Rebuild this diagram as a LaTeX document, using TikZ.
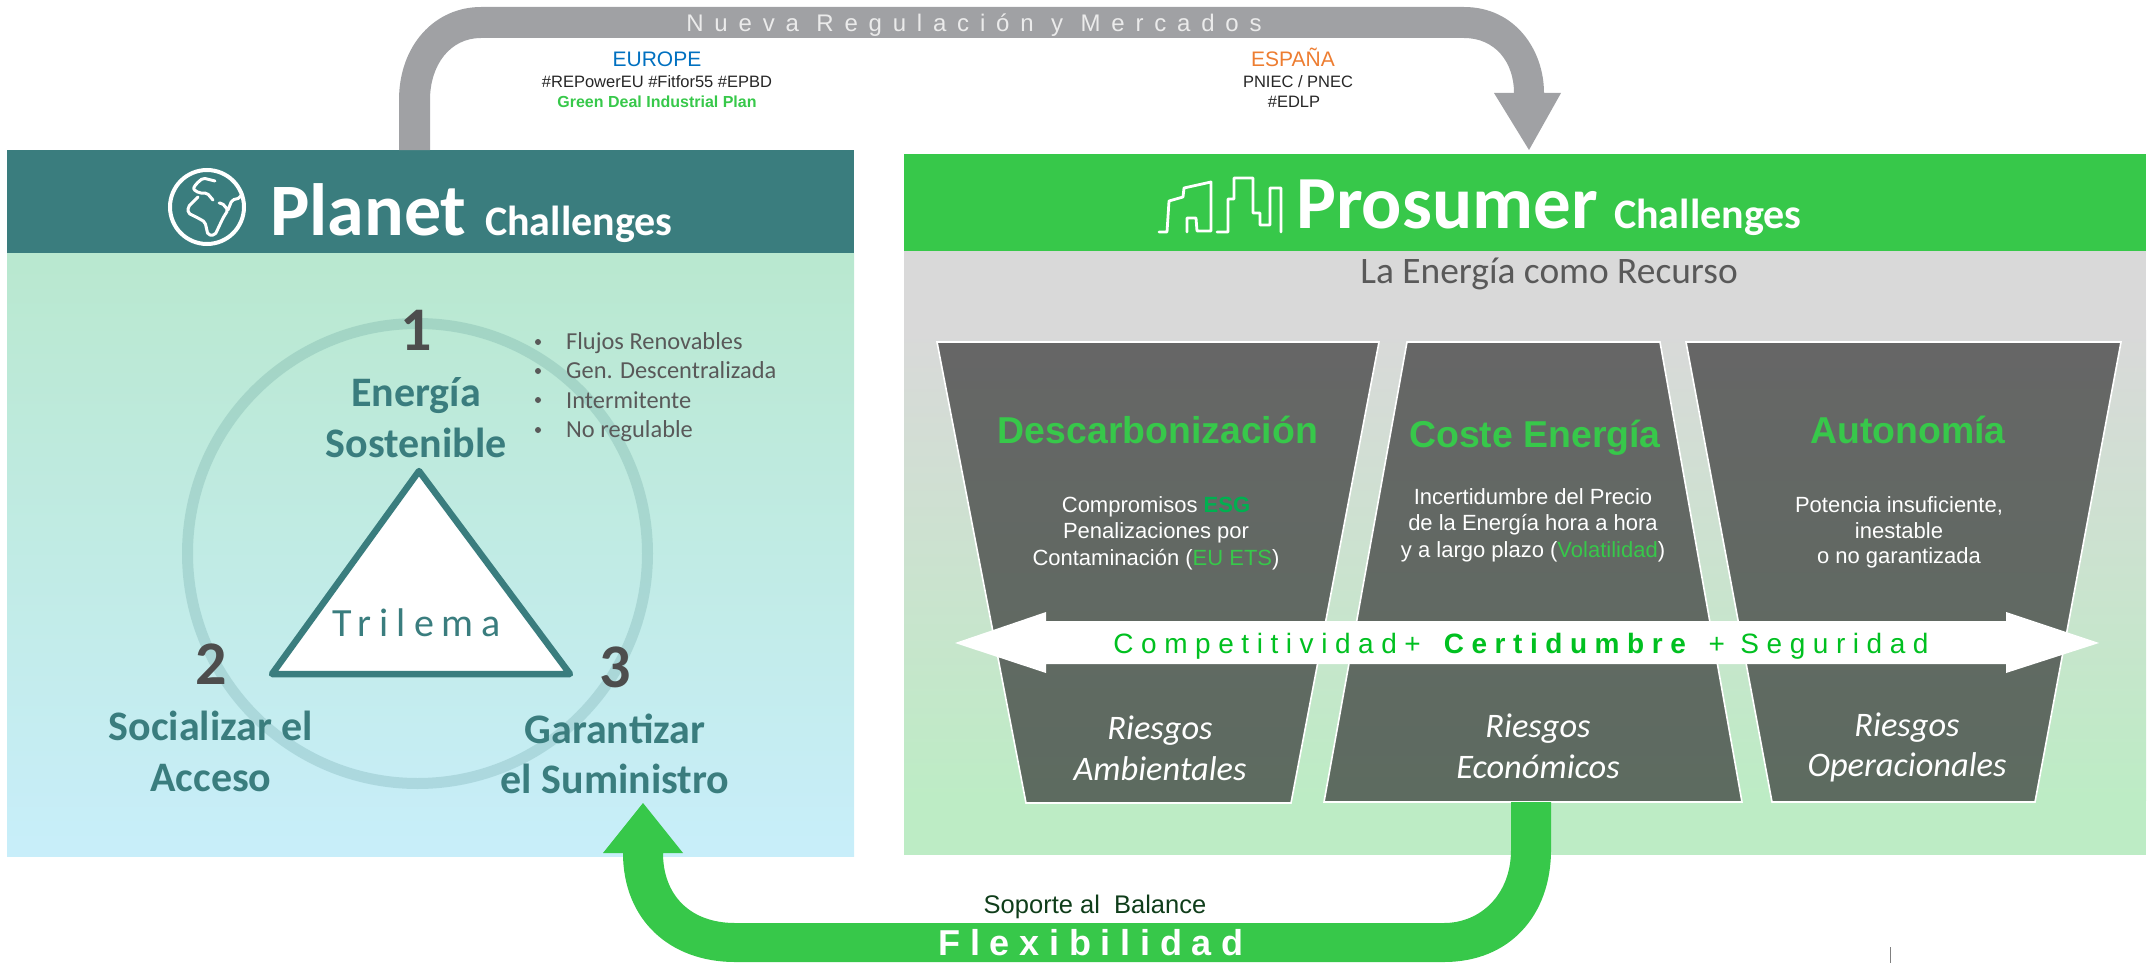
\documentclass[tikz,border=0pt]{standalone}
\usepackage{fontspec}
\setmainfont{Liberation Sans}
\newfontfamily\calfont{Carlito}
\newfontfamily\spacedfont[LetterSpace=45]{Liberation Sans}
\newfontfamily\midspacefont[LetterSpace=27]{Liberation Sans}
\newfontfamily\trilfont[LetterSpace=20]{Carlito}
\usetikzlibrary{positioning,calc}

\definecolor{tealhead}{HTML}{3A7D7E}
\definecolor{greenhead}{HTML}{37C84A}
\definecolor{greyarrow}{HTML}{A0A1A4}
\definecolor{greytext}{HTML}{595959}
\definecolor{numgrey}{HTML}{4D4D4D}
\definecolor{spacegreen}{HTML}{00C020}
\definecolor{esggreen}{HTML}{00B050}
\definecolor{pillarend}{HTML}{5D6B60}
\definecolor{panelmint}{HTML}{B9E8CF}
\definecolor{panelsky}{HTML}{C8EEFA}
\definecolor{panelgreen}{HTML}{BDECC5}
\definecolor{panelgrey}{HTML}{D9D9D9}
\definecolor{euroblue}{HTML}{0070C0}
\definecolor{spainorange}{HTML}{ED7D31}
\definecolor{darkgreentext}{HTML}{0F3D1A}

\tikzset{
  txt/.style={anchor=base,inner sep=0pt,align=center},
  hashtag/.style={txt,font=\fontsize{16.5}{20}\selectfont,text=black!85},
  bigtitle/.style={txt,font=\calfont\bfseries\fontsize{42}{48}\selectfont,text=tealhead},
  num/.style={txt,font=\calfont\bfseries\fontsize{62}{70}\selectfont,text=numgrey},
  flujo/.style={anchor=base west,inner sep=0pt,font=\calfont\fontsize{24.4}{30}\selectfont,text=greytext},
  dotitem/.style={circle,fill=greytext,inner sep=0pt,minimum size=6pt},
  pillar/.style={draw=white,line width=1.6pt,top color=black!60,bottom color=pillarend},
  pillarhead/.style={txt,font=\bfseries\fontsize{37.4}{42}\selectfont,text=greenhead},
  pillartext/.style={txt,font=\fontsize{22}{26}\selectfont,text=white},
  riesgo/.style={txt,font=\calfont\itshape\fontsize{34.4}{38}\selectfont,text=white},
}

\begin{document}
\begin{tikzpicture}[x=1pt,y=-1pt]
\useasboundingbox (0,0) rectangle (2149,963);

    \begin{scope} % Panels
        \shade[top color=panelmint,bottom color=panelsky] (7,253) rectangle (854,856);
        \fill[tealhead] (7,150) rectangle (854,253);
        \fill[panelgrey] (904,251) rectangle (2146,331);
        \shade[top color=panelgrey,bottom color=panelgreen] (904,330) rectangle (2146,800);
        \fill[panelgreen] (904,799) rectangle (2146,855);
        \fill[greenhead] (904,154) rectangle (2146,251);
    \end{scope}

    \begin{scope} % Grey arrow on top
        \coordinate (GL) at (399,150);
        \coordinate (GR) at (430,150);
        \coordinate (GH) at (1529,150);
        \fill[greyarrow] (GL) -- (399,100) .. controls (399,45) and (435,7) .. (481,7) -- (1464,7)
            .. controls (1515,7) and (1544,50) .. (1544,93) -- (1561,93) -- (GH) -- (1494,93) -- (1514,93)
            .. controls (1514,62) and (1495,38) .. (1464,38) -- (481,38)
            .. controls (450,38) and (430,65) .. (430,100) -- (GR) -- cycle;
    \end{scope}
    \node[txt,font=\spacedfont\fontsize{24}{28}\selectfont,text=white!92!black] (nueva) at (974,32) {Nueva Regulación y Mercados};

    \node[txt,font=\fontsize{21}{24}\selectfont,text=euroblue] (europe) at (657,67) {EUROPE};
    \node[hashtag] (repower) at (657,88) {\#REPowerEU \#Fitfor55 \#EPBD};
    \node[txt,font=\bfseries\fontsize{16}{20}\selectfont,text=greenhead] (deal) at (657,108) {Green Deal Industrial Plan};
    \node[txt,font=\fontsize{21}{24}\selectfont,text=spainorange] (espana) at (1293,67) {ESPAÑA};
    \node[hashtag] (pniec) at (1298,88) {PNIEC / PNEC};
    \node[hashtag] (edlp) at (1294,108) {\#EDLP};

    \begin{scope} % Header of the left panel
        \draw[white,line width=4pt] (207,207) circle (37);
        \draw[white,line width=3pt,line join=round,line cap=round,rounded corners=2pt]
            (215,181) -- (203,178) -- (196,184) -- (193,189) -- (199,193) -- (207,193) -- (213,200)
            (198,197) -- (188,207) -- (188,213) -- (198,218) -- (205,222) -- (208,235) -- (215,235) -- (223,218) -- (228,210) -- (222,203) -- (219,203)
            (228,210) -- (232,200) -- (240,198) -- (242,193);
        \node[anchor=base west,inner sep=0pt,font=\calfont\bfseries\fontsize{74}{80}\selectfont,text=white] (planet) at (270,235) {Planet};
        \node[anchor=base west,inner sep=0pt,font=\calfont\bfseries\fontsize{42}{46}\selectfont,text=white] (planetch) at (485,235) {Challenges};
    \end{scope}

    \begin{scope} % Header of the right panel
        \draw[white,line width=2.8pt,line join=round,line cap=round]
            (1159,232) -- (1167,232) -- (1169,201) -- (1183,197) -- (1184,188) -- (1211,182) -- (1211,231) -- (1197,231) -- (1196,218) -- (1187,218) -- (1187,232)
            (1217,232) -- (1228,232) -- (1228,199) -- (1234,199) -- (1234,178) -- (1253,178) -- (1253,213) -- (1260,213) -- (1260,225) -- (1270,225) -- (1270,188) -- (1281,188) -- (1281,232);
        \node[anchor=base west,inner sep=0pt,font=\calfont\bfseries\fontsize{75}{84}\selectfont,text=white] (prosumer) at (1296,228) {Prosumer};
        \node[anchor=base west,inner sep=0pt,font=\calfont\bfseries\fontsize{42}{46}\selectfont,text=white] (prosumerch) at (1614,228) {Challenges};
        \node[txt,font=\calfont\fontsize{37.4}{42}\selectfont,text=greytext] (recurso) at (1549,283) {La Energía como Recurso};
    \end{scope}

    \begin{scope} % Trilemma
        \draw[tealhead,opacity=0.18,line width=11pt] (417.5,553.5) circle (230);
        \node[num] (uno) at (416,350) {1};
        \node[num] (dos) at (211,684) {2};
        \node[num] (tres) at (615,687) {3};
        \node[bigtitle] (energia) at (416,406) {Energía};
        \node[bigtitle] (sostenible) at (416,457) {Sostenible};
        \node[bigtitle] (socializar) at (211,740) {Socializar el};
        \node[bigtitle] (acceso) at (211,791) {Acceso};
        \node[bigtitle] (garantizar) at (615,743) {Garantizar};
        \node[bigtitle] (suministro) at (615,793) {el Suministro};
        \coordinate (TA) at (419,471);
        \coordinate (TB) at (272,674);
        \coordinate (TC) at (570,674);
        \draw[tealhead,fill=white,line width=6.5pt,line join=round] (TA) -- (TB) -- (TC) -- cycle;
        \node[txt,font=\trilfont\fontsize{40}{44}\selectfont,text=tealhead] (trilema) at (417,636) {Trilema};
    \end{scope}

    \begin{scope} % Bullets
        \node[flujo] (f1) at (566,349) {Flujos Renovables};
        \node[flujo] (f2) at (566,378) {Gen. Descentralizada};
        \node[flujo] (f3) at (566,408) {Intermitente};
        \node[flujo] (f4) at (566,437) {No regulable};
        \node[dotitem] (d1) at (538,342) {};
        \node[dotitem] (d2) at (538,371) {};
        \node[dotitem] (d3) at (538,400) {};
        \node[dotitem] (d4) at (538,430) {};
    \end{scope}

    \begin{scope} % Three pillars
        \shade[pillar] (937,342) -- (1379,342) -- (1291,803) -- (1026,803) -- cycle;
        \shade[pillar] (1407,342) -- (1660,342) -- (1742,802) -- (1324,802) -- cycle;
        \shade[pillar] (1686,342) -- (2121,342) -- (2035,802) -- (1772,802) -- cycle;
    \end{scope}

    \node[pillarhead] (descarb) at (1158,443) {Descarbonización};
    \node[pillarhead] (coste) at (1535,447) {Coste Energía};
    \node[pillarhead] (autonomia) at (1908,443) {Autonomía};

    \node[pillartext] (ds1) at (1156,512) {Compromisos \textcolor{esggreen}{\textbf{ESG}}};
    \node[pillartext] (ds2) at (1156,538) {Penalizaciones por};
    \node[pillartext] (ds3) at (1156,565) {Contaminación (\textcolor{greenhead}{EU ETS})};
    \node[pillartext] (cs1) at (1533,504) {Incertidumbre del Precio};
    \node[pillartext] (cs2) at (1533,530) {de la Energía hora a hora};
    \node[pillartext] (cs3) at (1533,557) {y a largo plazo (\textcolor{greenhead}{Volatilidad})};
    \node[pillartext] (as1) at (1899,512) {Potencia insuficiente,};
    \node[pillartext] (as2) at (1899,538) {inestable};
    \node[pillartext] (as3) at (1899,563) {o no garantizada};

    \node[riesgo] (r1a) at (1160,739) {Riesgos};
    \node[riesgo] (r1b) at (1160,780) {Ambientales};
    \node[riesgo] (r2a) at (1538,737) {Riesgos};
    \node[riesgo] (r2b) at (1538,778) {Económicos};
    \node[riesgo] (r3a) at (1907,736) {Riesgos};
    \node[riesgo] (r3b) at (1907,776) {Operacionales};

    \begin{scope} % White double arrow
        \coordinate (WL) at (955,643);
        \coordinate (WR) at (2099,643);
        \fill[white] (WL) -- (1046,612) -- (1046,621) -- (2006,621) -- (2006,612) -- (WR)
            -- (2006,673) -- (2006,664) -- (1046,664) -- (1046,673) -- cycle;
    \end{scope}
    \node[txt,font=\midspacefont\fontsize{28}{32}\selectfont,text=spacegreen] (compet) at (1521,653) {Competitividad+ \textbf{Certidumbre} + Seguridad};

    \begin{scope} % Green arrow at the bottom
        \coordinate (FR) at (1511,802);
        \coordinate (FS) at (1551,802);
        \coordinate (FT) at (643,803);
        \fill[greenhead] (FR) -- (1511,850) .. controls (1511,895) and (1480,923) .. (1444,923) -- (735,923)
            .. controls (690,923) and (663,895) .. (663,853) -- (683,853) -- (FT) -- (603,853) -- (623,853)
            .. controls (623,920) and (670,962) .. (735,962) -- (1444,962)
            .. controls (1510,962) and (1551,915) .. (1551,850) -- (FS) -- cycle;
    \end{scope}
    \node[txt,font=\fontsize{25.5}{30}\selectfont,text=darkgreentext] (soporte) at (1095,913) {Soporte al\ \ Balance};
    \node[txt,font=\midspacefont\bfseries\fontsize{36}{40}\selectfont,text=white] (flexi) at (1091,955) {Flexibilidad};

    \coordinate (M1) at (1890,947);
    \coordinate (M2) at (1890,963);
    \draw[black!50,line width=1pt] (M1) -- (M2);

\end{tikzpicture}
\end{document}
